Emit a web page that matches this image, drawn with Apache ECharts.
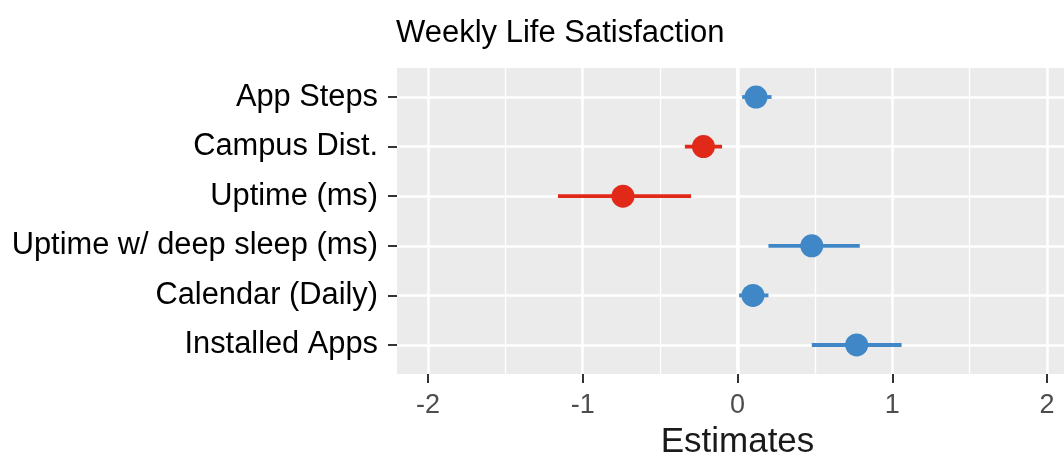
<!DOCTYPE html>
<html>
<head>
<meta charset="utf-8">
<script src="https://cdn.jsdelivr.net/npm/echarts@6/dist/echarts.min.js"></script>
<style>
  html, body { margin: 0; padding: 0; background: #fff; }
  #chart { width: 1064px; height: 461px; }
</style>
</head>
<body>
<div id="chart"></div>
<script>
// terms, top to bottom
const terms = ['App Steps', 'Campus Dist.', 'Uptime (ms)', 'Uptime w/ deep sleep (ms)', 'Calendar (Daily)', 'Installed Apps'];
// point estimates and confidence limits
const estimates = [0.12, -0.22, -0.74, 0.48, 0.10, 0.77];
const ciLow = [0.03, -0.34, -1.16, 0.20, 0.01, 0.48];
const ciHigh = [0.22, -0.10, -0.30, 0.79, 0.20, 1.06];
const xTicks = [-2, -1, 0, 1, 2];
const xMinor = [-1.5, -0.5, 0.5, 1.5];
const rowIdx = terms.map((t, i) => i);

const red = '#E1291A';
const blue = '#3F87C6';
const colorOf = v => (v < 0 ? red : blue);

const chart = echarts.init(document.getElementById('chart'));

// hidden x axis that only draws grid lines at the given values
function gridAxis(values, width) {
  return {
    type: 'value',
    min: -2.2,
    max: 2.2,
    position: 'bottom',
    axisLine: { show: false, onZero: false },
    axisTick: { show: false, customValues: values },
    axisLabel: { show: false, customValues: values },
    splitLine: { show: true, lineStyle: { color: '#fff', width: width } }
  };
}

const option = {
  animation: false,
  textStyle: { fontFamily: 'Liberation Sans, Arial, sans-serif' },
  title: {
    text: 'Weekly Life Satisfaction',
    left: 396,
    top: 18,
    padding: 0,
    textStyle: { fontSize: 31, fontWeight: 'normal', color: '#000' }
  },
  grid: {
    left: 397,
    width: 681, // panel runs past the right edge, like the cropped original
    top: 68,
    bottom: 87,
    outerBoundsMode: 'none',
    containLabel: false,
    show: true,
    backgroundColor: '#EBEBEB',
    borderWidth: 0
  },
  xAxis: [
    {
      type: 'value',
      min: -2.2,
      max: 2.2,
      position: 'bottom',
      name: 'Estimates',
      nameLocation: 'middle',
      nameGap: 51,
      nameTextStyle: { fontSize: 35, color: '#1a1a1a' },
      axisLine: { show: false, onZero: false },
      axisTick: { show: true, customValues: xTicks, length: 9, lineStyle: { color: '#333', width: 2 } },
      axisLabel: { customValues: xTicks, fontSize: 27, color: '#4D4D4D', margin: 18 },
      splitLine: { show: true, lineStyle: { color: '#fff', width: 2.5 } }
    },
    gridAxis(xMinor, 1.3),
    gridAxis([0], 3.5)
  ],
  yAxis: {
    type: 'value',
    inverse: true,
    min: -0.585,
    max: 5.585,
    axisLine: { show: false, onZero: false },
    axisTick: { show: true, customValues: rowIdx, length: 9, lineStyle: { color: '#333', width: 2 } },
    axisLabel: {
      customValues: rowIdx,
      fontSize: 30.8,
      color: '#000',
      margin: 19,
      formatter: v => terms[Math.round(v)]
    },
    splitLine: { show: true, lineStyle: { color: '#fff', width: 2.5 } }
  },
  series: [
    {
      // confidence intervals
      type: 'custom',
      z: 3,
      data: terms.map((t, i) => [ciLow[i], ciHigh[i], i, estimates[i]]),
      renderItem: function (params, api) {
        const a = api.coord([api.value(0), api.value(2)]);
        const b = api.coord([api.value(1), api.value(2)]);
        return {
          type: 'line',
          shape: { x1: a[0], y1: a[1], x2: b[0], y2: b[1] },
          style: { stroke: colorOf(api.value(3)), lineWidth: 3.8 }
        };
      }
    },
    {
      // point estimates
      type: 'scatter',
      z: 4,
      symbolSize: 23,
      data: terms.map((t, i) => ({
        value: [estimates[i], i],
        itemStyle: { color: colorOf(estimates[i]), opacity: 1 }
      }))
    }
  ]
};

chart.setOption(option);
</script>
</body>
</html>
